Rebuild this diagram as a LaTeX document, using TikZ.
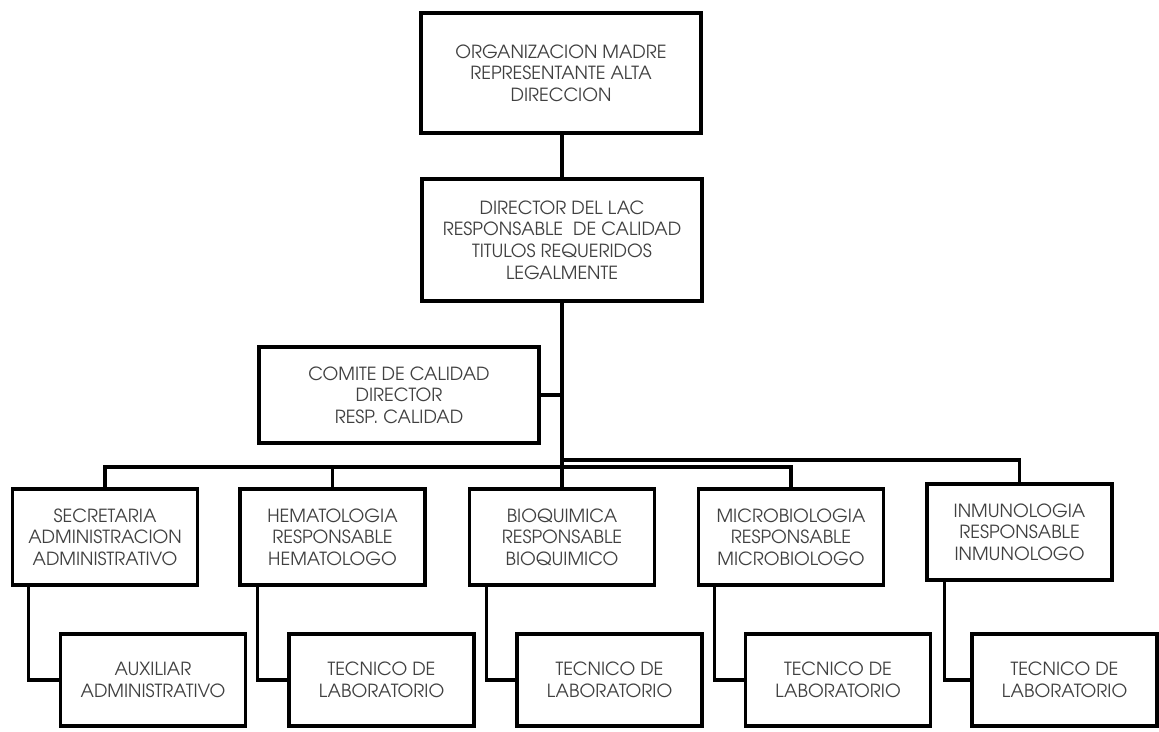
\documentclass[tikz,border=0pt]{standalone}
\usepackage{fontspec}
\setmainfont{TeX Gyre Adventor}
\usetikzlibrary{calc}

\tikzset{
  caja/.style={draw, line width=2.2pt, align=center, inner sep=0pt,
    text=black!75, font=\fontsize{10.3}{12.3}\selectfont},
  cajagrande/.style={caja, minimum width=5.6cm, minimum height=2.4cm},
  cajamedia/.style={caja, minimum width=3.7cm, minimum height=1.92cm},
  cajabaja/.style={caja, minimum width=3.7cm, minimum height=1.84cm},
}

\begin{document}
\begin{tikzpicture}[x=0.02cm, y=-0.02cm]
    \useasboundingbox (0,0) rectangle (1159,731);
    %% Draw the upper boxes
    \node[cajagrande] (org) at (561,73) {ORGANIZACION MADRE\\REPRESENTANTE ALTA\\DIRECCION};
    \node[cajagrande, minimum height=2.44cm] (dir) at (562,240) {DIRECTOR DEL LAC\\RESPONSABLE\ \ DE CALIDAD\\TITULOS REQUERIDOS\\LEGALMENTE};
    \node[cajagrande, minimum height=1.92cm] (com) at (399,395) {COMITE DE CALIDAD\\DIRECTOR\\RESP. CALIDAD};
    %% Draw the areas
    \node[cajamedia] (sec) at (105,537) {SECRETARIA\\ADMINISTRACION\\ADMINISTRATIVO};
    \node[cajamedia] (hem) at (332.5,537) {HEMATOLOGIA\\RESPONSABLE\\HEMATOLOGO};
    \node[cajamedia] (bio) at (562,537) {BIOQUIMICA\\RESPONSABLE\\BIOQUIMICO};
    \node[cajamedia] (mic) at (791,537) {MICROBIOLOGIA\\RESPONSABLE\\MICROBIOLOGO};
    \node[cajamedia] (inm) at (1019.5,532) {INMUNOLOGIA\\RESPONSABLE\\INMUNOLOGO};
    %% Draw the staff under each area
    \node[cajabaja] (aux) at (153,680) {AUXILIAR\\ADMINISTRATIVO};
    \node[cajabaja] (tecA) at (381.5,680) {TECNICO DE\\LABORATORIO};
    \node[cajabaja] (tecB) at (609.5,680) {TECNICO DE\\LABORATORIO};
    \node[cajabaja] (tecC) at (838,680) {TECNICO DE\\LABORATORIO};
    \node[cajabaja] (tecD) at (1064.5,680) {TECNICO DE\\LABORATORIO};
    %% Points of the two buses
    \coordinate (busA) at (562,460);
    \coordinate (busB) at (562,467);
    %% Draw the edges
    \begin{scope}[every path/.style={line width=1.8pt}]
      \draw (dir.north) -- (dir.north |- org.south);
      \draw (dir.south) -- (bio.north);
      \draw (com.east) -- (com.east -| dir.south);
      \draw (sec.north) |- (busB);
      \draw (hem.north) -- (hem.north |- busB);
      \draw (busB) -| (mic.north);
      \draw (busA) -| (inm.north);
      \draw ($(sec.south west)+(18,0)$) |- (aux.west);
      \draw ($(hem.south west)+(19,0)$) |- (tecA.west);
      \draw ($(bio.south west)+(19,0)$) |- (tecB.west);
      \draw ($(mic.south west)+(18,0)$) |- (tecC.west);
      \draw ($(inm.south west)+(19,0)$) |- (tecD.west);
    \end{scope}
\end{tikzpicture}
\end{document}
